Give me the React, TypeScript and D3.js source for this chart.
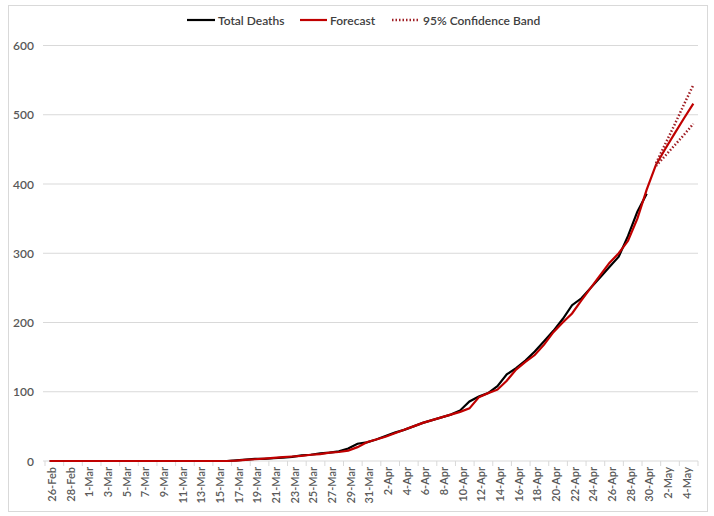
import React from 'react';
import * as d3 from "d3";

const days = [
  "26-Feb","27-Feb","28-Feb","29-Feb",
  "1-Mar","2-Mar","3-Mar","4-Mar","5-Mar","6-Mar","7-Mar","8-Mar","9-Mar","10-Mar",
  "11-Mar","12-Mar","13-Mar","14-Mar","15-Mar","16-Mar","17-Mar","18-Mar","19-Mar","20-Mar",
  "21-Mar","22-Mar","23-Mar","24-Mar","25-Mar","26-Mar","27-Mar","28-Mar","29-Mar","30-Mar","31-Mar",
  "1-Apr","2-Apr","3-Apr","4-Apr","5-Apr","6-Apr","7-Apr","8-Apr","9-Apr","10-Apr",
  "11-Apr","12-Apr","13-Apr","14-Apr","15-Apr","16-Apr","17-Apr","18-Apr","19-Apr","20-Apr",
  "21-Apr","22-Apr","23-Apr","24-Apr","25-Apr","26-Apr","27-Apr","28-Apr","29-Apr","30-Apr",
  "1-May","2-May","3-May","4-May","5-May"
];

// actual deaths, 26-Feb .. 30-Apr
const totalDeaths = [
  0,0,0,0,0,0,0,0,0,0,
  0,0,0,0,0,0,0,0,0,0,
  1,2,3,3,4,5,6,8,9,11,
  12,14,18,25,27,31,36,41,45,50,
  55,59,63,67,73,86,93,98,108,125,
  134,145,158,173,188,205,225,235,250,265,
  280,295,325,360,386
];

// fitted + forecast, 26-Feb .. 5-May
const forecast = [
  0,0,0,0,0,0,0,0,0,0,
  0,0,0,0,0,0,0,0,0,0,
  0.5,1.5,2.5,3.5,4.5,5.5,6.5,7.5,9,10,
  12,13,15,20,27,31,35,40,45,50,
  55,59,63,67,71,76,92,98,103,116,
  132,143,153,168,186,200,213,232,250,268,
  286,300,318,350,392,428,451,473,495,516
];

// 95% band, only for the forecast days (1-May .. 5-May)
const bandUpper = [430, 458, 486, 515, 543];
const bandLower = [426, 441, 456, 471, 487];

const yTicks = [0, 100, 200, 300, 400, 500, 600];

const App = () => {
  const width = 714;
  const height = 516;

  const x = d3.scaleBand().domain(days).range([45, 698]).padding(0);
  const bw = x.bandwidth();
  const cx = (d: string) => (x(d) as number) + bw / 2;
  const y = d3.scaleLinear().domain([0, 600]).range([461, 45.5]);

  const line = d3.line<[string, number]>()
    .x(d => cx(d[0]))
    .y(d => y(d[1]));

  const deathPts = totalDeaths.map((v, i) => [days[i], v] as [string, number]);
  const fcPts = forecast.map((v, i) => [days[i], v] as [string, number]);
  const start = days.indexOf("1-May");
  const upPts = bandUpper.map((v, i) => [days[start + i], v] as [string, number]);
  const loPts = bandLower.map((v, i) => [days[start + i], v] as [string, number]);

  const grid = "#D9D9D9";
  const txt = "#595959";
  const font = "Lato, 'Liberation Sans', Arial, sans-serif";

  return (
    <svg width={width} height={height} style={{position: "absolute", left: 0, top: 0}}>
      <rect x={0} y={0} width={width} height={height} fill="#fff"/>
      <rect x={8.5} y={5.5} width={699} height={506} fill="none" stroke={grid}/>

      {yTicks.map(t => (
        <g key={t}>
          <line x1={43} x2={698} y1={y(t)} y2={y(t)} stroke={grid} strokeWidth={1}/>
          <text x={34} y={y(t) + 4.5} textAnchor="end" fontSize={12} fontWeight={600} fill={txt} fontFamily={font}>{t}</text>
        </g>
      ))}

      {days.map((d, i) => i % 2 === 0 ? (
        <g key={d}>
          <line x1={x(d)} x2={x(d)} y1={y(0)} y2={y(0) + 5} stroke={grid}/>
          <text transform={`translate(${cx(d) + 6.5},${467}) rotate(-90)`} textAnchor="end"
            fontSize={11} fontWeight={600} fill={txt} fontFamily={font}>{d}</text>
        </g>
      ) : null)}
      <line x1={698} x2={698} y1={y(0)} y2={y(0) + 5} stroke={grid}/>

      <path d={line(deathPts) || ""} fill="none" stroke="#000" strokeWidth={2.2}/>
      <path d={line(fcPts) || ""} fill="none" stroke="#C00000" strokeWidth={2.2}/>
      <path d={line(upPts) || ""} fill="none" stroke="#A01E24" strokeWidth={2.5} strokeDasharray="1.5 2"/>
      <path d={line(loPts) || ""} fill="none" stroke="#A01E24" strokeWidth={2.5} strokeDasharray="1.5 2"/>

      <g fontFamily={font} fontSize={12} fontWeight={600} fill="#404040">
        <line x1={187} x2={215} y1={20} y2={20} stroke="#000" strokeWidth={2.2}/>
        <text x={218} y={24.5}>Total Deaths</text>
        <line x1={300} x2={327} y1={20} y2={20} stroke="#C00000" strokeWidth={2.2}/>
        <text x={330} y={24.5}>Forecast</text>
        <line x1={392} x2={420} y1={20} y2={20} stroke="#A01E24" strokeWidth={2.5} strokeDasharray="1.5 2"/>
        <text x={423} y={24.5}>95% Confidence Band</text>
      </g>
    </svg>
  );
};

export default App;
